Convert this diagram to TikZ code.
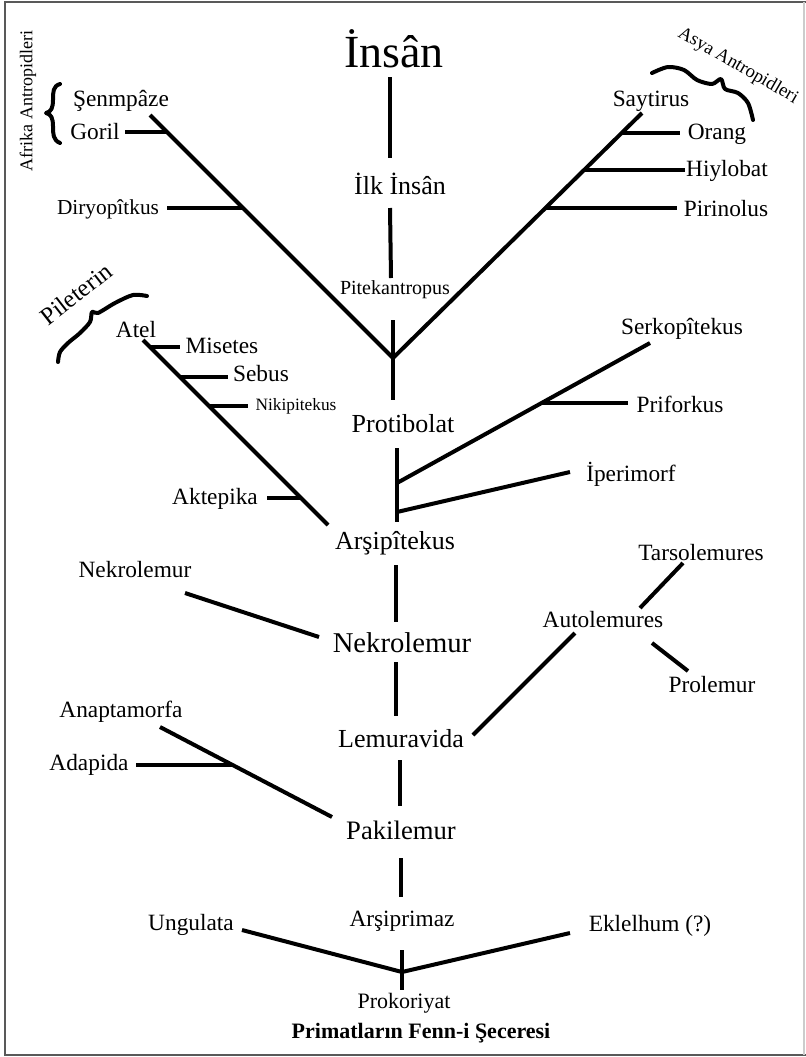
\documentclass[tikz,border=0pt]{standalone}
\usepackage{fontspec}
\setmainfont{Liberation Serif}
\newcommand{\fpt}[1]{\fontsize{#1}{#1}\selectfont}
\tikzset{
  lbl/.style={inner sep=0pt, font=\fpt{17.5pt}},
  br/.style={line width=3pt, line cap=butt},
  wavy/.style={line width=3pt, line cap=round, line join=round},
  frame/.style={line width=2pt, draw=black!65}
}
\begin{document}
\begin{tikzpicture}[x=0.75pt, y=-0.75pt]
\useasboundingbox (0,0) rectangle (806,1057);
% frame
\draw[frame] (5,2) -- (5,1055);
\draw[frame] (4,2) -- (806,2);
\draw[frame] (4,1055) -- (806,1055);
\draw[line width=1pt, draw=black!20] (804,2) -- (804,1055);

% ---------- text nodes ----------
\node[lbl, font=\fpt{34.5pt}] (insan) at (394,49) {İnsân};
\node[lbl, font=\fpt{19.5pt}] (ilk) at (400,184) {İlk İnsân};
\node[lbl, font=\fpt{15pt}] (pitek) at (395,290) {Pitekantropus};
\node[lbl] (senm) at (121,101) {Şenmpâze};
\node[lbl] (goril) at (95,132) {Goril};
\node[lbl, font=\fpt{16pt}] (diryo) at (108,209) {Diryopîtkus};
\node[lbl, rotate=90, font=\fpt{13.5pt}] (afrika) at (28,101) {Afrika Antropidleri};
\node[lbl] (saytirus) at (651,101) {Saytirus};
\node[lbl] (orang) at (717,134) {Orang};
\node[lbl] (hiylobat) at (727,171) {Hiylobat};
\node[lbl] (pirinolus) at (726,209) {Pirinolus};
\node[lbl, rotate=-30, font=\fpt{14pt}] (asya) at (738,66) {Asya Antropidleri};
\node[lbl, rotate=38, font=\fpt{18.5pt}] (pileterin) at (76,294) {Pileterin};
\node[lbl] (atel) at (136,330) {Atel};
\node[lbl] (misetes) at (222,346) {Misetes};
\node[lbl] (sebus) at (261,374) {Sebus};
\node[lbl, font=\fpt{13pt}] (niki) at (296,406) {Nikipitekus};
\node[lbl] (aktepika) at (215,499) {Aktepika};
\node[lbl, font=\fpt{19.5pt}] (protibolat) at (403,424) {Protibolat};
\node[lbl] (serko) at (682,329) {Serkopîtekus};
\node[lbl] (priforkus) at (680,404) {Priforkus};
\node[lbl] (iperimorf) at (631,474) {İperimorf};
\node[lbl, font=\fpt{19.5pt}] (arsipitekus) at (395,543) {Arşipîtekus};
\node[lbl] (nekroL) at (135,570) {Nekrolemur};
\node[lbl, font=\fpt{21.5pt}] (nekrolemur) at (402,643) {Nekrolemur};
\node[lbl] (tarso) at (701,553) {Tarsolemures};
\node[lbl] (autol) at (603,620) {Autolemures};
\node[lbl] (prolemur) at (712,685) {Prolemur};
\node[lbl, font=\fpt{19.5pt}] (lemuravida) at (401,739) {Lemuravida};
\node[lbl] (anapta) at (121,712) {Anaptamorfa};
\node[lbl] (adapida) at (89,765) {Adapida};
\node[lbl, font=\fpt{20pt}] (pakilemur) at (401,830) {Pakilemur};
\node[lbl] (arsiprimaz) at (402,921) {Arşiprimaz};
\node[lbl] (ungulata) at (191,925) {Ungulata};
\node[lbl] (eklelhum) at (650,926) {Eklelhum (?)};
\node[lbl, font=\fpt{16.5pt}] (prokoriyat) at (404,1003) {Prokoriyat};
\node[lbl, font=\fpt{16.5pt}\bfseries] (title) at (421,1033) {Primatların Fenn-i Şeceresi};

% ---------- coordinates ----------
\coordinate (t1a) at (390,77);  \coordinate (t1b) at (390,158);
\coordinate (t2a) at (390,208); \coordinate (t2b) at (391,278);
\coordinate (t3a) at (393,320); \coordinate (t3b) at (393,400);
\coordinate (j1) at (393,358);
\coordinate (lv) at (150,115);  \coordinate (rv) at (642,113);
\coordinate (gorA) at (125,132); \coordinate (gorB) at (167,132);
\coordinate (dirA) at (167,208); \coordinate (dirB) at (243,208);
\coordinate (oraA) at (622,133); \coordinate (oraB) at (680,133);
\coordinate (hiyA) at (584,170); \coordinate (hiyB) at (685,170);
\coordinate (pirA) at (545,208); \coordinate (pirB) at (677,208);
\coordinate (p1a) at (397,448); \coordinate (p1b) at (397,522);
\coordinate (jS) at (397,483);  \coordinate (serE) at (650,343);
\coordinate (priA) at (542,403); \coordinate (priB) at (628,403);
\coordinate (jI) at (397,512);  \coordinate (ipeE) at (570,472);
\coordinate (atA) at (143,340); \coordinate (atB) at (328,525);
\coordinate (misA) at (150,347); \coordinate (misB) at (180,347);
\coordinate (sebA) at (180,377); \coordinate (sebB) at (228,377);
\coordinate (nikA) at (209,406); \coordinate (nikB) at (248,406);
\coordinate (aktA) at (267,498); \coordinate (aktB) at (301,498);
\coordinate (a1a) at (396,565); \coordinate (a1b) at (396,622);
\coordinate (nkA) at (185,593); \coordinate (nkB) at (319,637);
\coordinate (n1a) at (396,662); \coordinate (n1b) at (396,716);
\coordinate (laA) at (473,735); \coordinate (laB) at (575,633);
\coordinate (atsA) at (640,608); \coordinate (atsB) at (683,563);
\coordinate (aprA) at (652,643); \coordinate (aprB) at (688,671);
\coordinate (l1a) at (400,760); \coordinate (l1b) at (400,806);
\coordinate (anA) at (160,727); \coordinate (anB) at (332,817);
\coordinate (adA) at (136,765); \coordinate (adB) at (232,765);
\coordinate (k1a) at (401,858); \coordinate (k1b) at (401,897);
\coordinate (ungE) at (242,930); \coordinate (ekE) at (570,933);
\coordinate (j2) at (402,972);
\coordinate (v2a) at (402,950); \coordinate (v2b) at (402,990);

% ---------- connectors ----------
\draw[br] (t1a) -- (t1b);
\draw[br] (t2a) -- (t2b);
\draw[br] (t3a) -- (t3b);
\draw[br, line join=miter] (lv) -- (j1) -- (rv);
\draw[br] (gorA) -- (gorB);
\draw[br] (dirA) -- (dirB);
\draw[br] (oraA) -- (oraB);
\draw[br] (hiyA) -- (hiyB);
\draw[br] (pirA) -- (pirB);
\draw[br] (p1a) -- (p1b);
\draw[br] (jS) -- (serE);
\draw[br] (priA) -- (priB);
\draw[br] (jI) -- (ipeE);
\draw[br] (atA) -- (atB);
\draw[br] (misA) -- (misB);
\draw[br] (sebA) -- (sebB);
\draw[br] (nikA) -- (nikB);
\draw[br] (aktA) -- (aktB);
\draw[br] (a1a) -- (a1b);
\draw[br] (nkA) -- (nkB);
\draw[br] (n1a) -- (n1b);
\draw[br] (laA) -- (laB);
\draw[br] (atsA) -- (atsB);
\draw[br] (aprA) -- (aprB);
\draw[br] (l1a) -- (l1b);
\draw[br] (anA) -- (anB);
\draw[br] (adA) -- (adB);
\draw[br] (k1a) -- (k1b);
\draw[br, line join=miter] (ungE) -- (j2) -- (ekE);
\draw[br] (v2a) -- (v2b);

% ---------- braces ----------
\draw[wavy] (60,84) .. controls (53,86) and (53,92) .. (53,100)
  .. controls (53,108) and (51,112) .. (46,113)
  .. controls (51,114) and (53,118) .. (53,126)
  .. controls (53,134) and (53,140) .. (60,143);
\draw[wavy] plot[smooth] coordinates {(652,73) (668,67) (684,70) (697,80) (712,84) (721,79) (725,89) (738,93) (748,103) (753,120)};
\draw[wavy] plot[smooth] coordinates {(147,296) (133,295) (115,303) (98,313) (92,312) (90,322) (80,333) (68,343) (60,352) (58,362)};
\end{tikzpicture}
\end{document}
